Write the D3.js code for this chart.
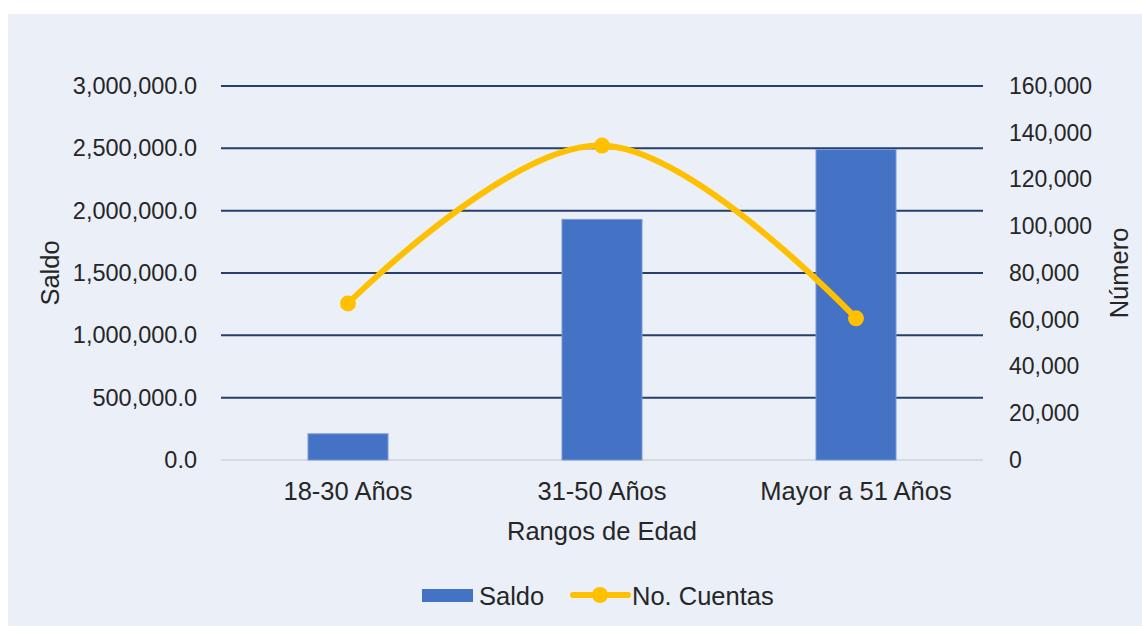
<!DOCTYPE html>
<html>
<head>
<meta charset="utf-8">
<script src="https://cdn.jsdelivr.net/npm/d3@7"></script>
<style>
  html, body { margin: 0; padding: 0; background: #ffffff; }
  svg { display: block; }
  text { font-family: "Liberation Sans", Arial, sans-serif; fill: #262626; }
</style>
</head>
<body>
<svg id="chart" width="1142" height="626"></svg>
<script>
// Age ranges and their account balance / account count
const categories = ["18-30 Años", "31-50 Años", "Mayor a 51 Años"];
const saldo = [210000, 1930000, 2490000];
const cuentas = [67000, 134500, 60600];
const leftTicks = [0, 500000, 1000000, 1500000, 2000000, 2500000, 3000000];
const rightTicks = [0, 20000, 40000, 60000, 80000, 100000, 120000, 140000, 160000];

const svg = d3.select("#chart");
const W = 1142, H = 626;
const wordSize = "25.5px";

// panel background
svg.append("rect").attr("x", 8).attr("y", 14).attr("width", W - 8).attr("height", H - 14)
  .attr("fill", "#eaeff8");

const plot = { left: 221, right: 983, top: 86, bottom: 460 };

const x = d3.scaleBand().domain(categories).range([plot.left, plot.right]);
const yL = d3.scaleLinear().domain([0, 3000000]).range([plot.bottom, plot.top]);
const yR = d3.scaleLinear().domain([0, 160000]).range([plot.bottom, plot.top]);

const fmtL = d3.format(",.1f");
const fmtR = d3.format(",");

// gridlines
svg.append("g").selectAll("line").data(leftTicks.filter(d => d > 0)).join("line")
  .attr("x1", plot.left).attr("x2", plot.right)
  .attr("y1", d => yL(d)).attr("y2", d => yL(d))
  .attr("stroke", "#263f6e").attr("stroke-width", 2);
svg.append("line")
  .attr("x1", plot.left).attr("x2", plot.right)
  .attr("y1", yL(0)).attr("y2", yL(0))
  .attr("stroke", "#d6d9de").attr("stroke-width", 2);

// left axis labels
const axL = d3.axisLeft(yL).tickValues(leftTicks).tickFormat(fmtL).tickSize(0).tickPadding(24);
const gL = svg.append("g").attr("transform", `translate(${plot.left},0)`).call(axL);
gL.select(".domain").remove();
gL.selectAll("text").style("font-size", "23.5px").style("font-family", null).attr("fill", "#262626");

// right axis labels
const axR = d3.axisRight(yR).tickValues(rightTicks).tickFormat(fmtR).tickSize(0).tickPadding(26);
const gR = svg.append("g").attr("transform", `translate(${plot.right},0)`).call(axR);
gR.select(".domain").remove();
gR.selectAll("text").style("font-size", "23px").style("font-family", null).attr("fill", "#262626");

// category labels
const axB = d3.axisBottom(x).tickSize(0).tickPadding(22);
const gB = svg.append("g").attr("transform", `translate(0,${plot.bottom})`).call(axB);
gB.select(".domain").remove();
gB.selectAll("text").style("font-size", wordSize).style("font-family", null).attr("fill", "#262626");

// bars
const barW = 80;
svg.append("g").selectAll("rect").data(saldo).join("rect")
  .attr("x", (d, i) => x(categories[i]) + x.bandwidth() / 2 - barW / 2)
  .attr("y", d => yL(d))
  .attr("width", barW)
  .attr("height", d => yL(0) - yL(d))
  .attr("fill", "#4472c4")
  .attr("stroke", "#7b9ad6").attr("stroke-width", 1);

// smoothed count line
const pts = cuentas.map((d, i) => [x(categories[i]) + x.bandwidth() / 2, yR(d)]);
svg.append("path")
  .attr("d", d3.line().curve(d3.curveCardinal.tension(-0.1))(pts))
  .attr("fill", "none").attr("stroke", "#ffc000").attr("stroke-width", 6)
  .attr("stroke-linecap", "round");
svg.append("g").selectAll("circle").data(pts).join("circle")
  .attr("cx", d => d[0]).attr("cy", d => d[1]).attr("r", 8)
  .attr("fill", "#ffc000");

// axis titles
svg.append("text").attr("x", (plot.left + plot.right) / 2).attr("y", 531)
  .attr("text-anchor", "middle").attr("dominant-baseline", "central")
  .style("font-size", wordSize).text("Rangos de Edad");
svg.append("text")
  .attr("transform", `translate(50,${(plot.top + plot.bottom) / 2}) rotate(-90)`)
  .attr("text-anchor", "middle").attr("dominant-baseline", "central")
  .style("font-size", wordSize).text("Saldo");
svg.append("text")
  .attr("transform", `translate(1119,${(plot.top + plot.bottom) / 2}) rotate(-90)`)
  .attr("text-anchor", "middle").attr("dominant-baseline", "central")
  .style("font-size", wordSize).text("Número");

// legend
const lg = svg.append("g");
lg.append("rect").attr("x", 422).attr("y", 589).attr("width", 51).attr("height", 13).attr("fill", "#4472c4");
lg.append("text").attr("x", 479).attr("y", 596).attr("dominant-baseline", "central")
  .style("font-size", wordSize).text("Saldo");
lg.append("line").attr("x1", 573).attr("x2", 628).attr("y1", 595).attr("y2", 595)
  .attr("stroke", "#ffc000").attr("stroke-width", 6).attr("stroke-linecap", "round");
lg.append("circle").attr("cx", 600).attr("cy", 595).attr("r", 8).attr("fill", "#ffc000");
lg.append("text").attr("x", 632).attr("y", 596).attr("dominant-baseline", "central")
  .style("font-size", wordSize).text("No. Cuentas");
</script>
</body>
</html>
